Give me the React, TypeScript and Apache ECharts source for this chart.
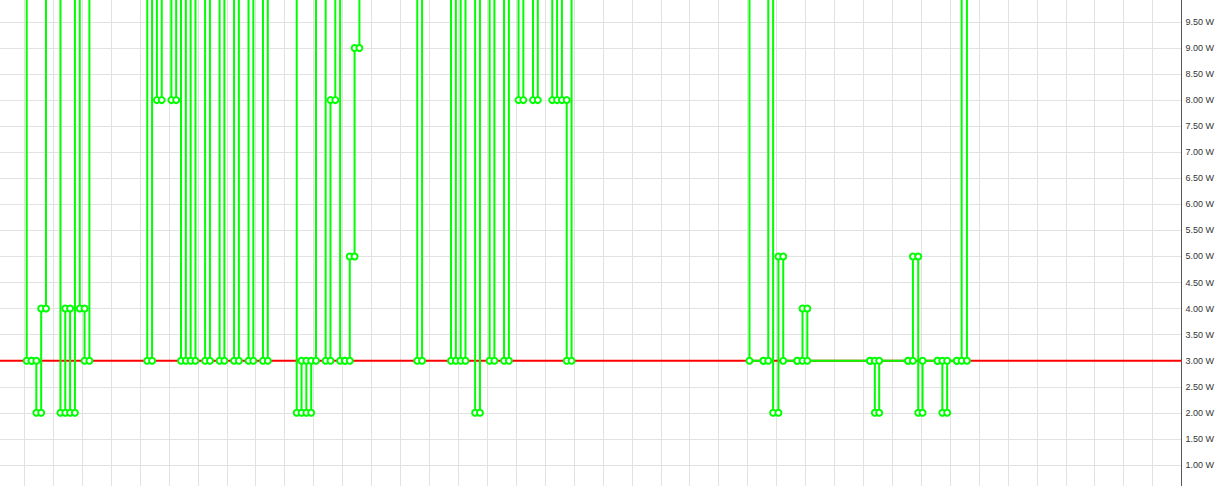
import React, { useEffect, useRef } from "react";
import * as echarts from "echarts";

// High readings that run off the top of the visible range
const HIGH = 14;

// Step start times (seconds) and the value held from that time until the next one
const stepTimes = [
  -25, 5, 15, 25, 35, 45, 75, 85, 95, 105, 115, 125, 135,
  255, 265, 275, 285, 305, 315, 325, 335, 345, 355, 375, 385, 405, 415,
  435, 445, 465, 475, 495, 505,
  565, 575, 585, 595, 605, 625, 635, 645, 655, 665, 675, 685, 695,
  815, 825, 885, 895, 905, 915, 935, 945, 965, 975, 995, 1005,
  1025, 1035, 1055, 1065, 1095, 1105, 1115, 1125, 1135,
  1504, 1533, 1543, 1553, 1564, 1574, 1603, 1614, 1624, 1754, 1764, 1773,
  1833, 1843, 1854, 1863, 1894, 1904, 1914, 1934, 1944, 1955,
];
const stepValues = [
  HIGH, 3, 3, 2, 4, HIGH, 2, 4, 2, HIGH, 4, 3, HIGH,
  3, HIGH, 8, HIGH, 8, HIGH, 3, HIGH, 3, HIGH, 3, HIGH, 3, HIGH,
  3, HIGH, 3, HIGH, 3, HIGH,
  2, 3, 2, 3, HIGH, 3, 8, HIGH, 3, 3, 5, 9, HIGH,
  3, HIGH, 3, HIGH, 3, HIGH, 2, HIGH, 3, HIGH, 3, HIGH,
  8, HIGH, 8, HIGH, 8, HIGH, 8, 3, HIGH,
  3, 3, HIGH, 2, 5, 3, 3, 4, 3, 3, 2, 3,
  3, 5, 2, 3, 3, 2, 3, 3, HIGH, 3,
];

// Threshold level (red line)
const thresholdValue = 3;
const xRange = [-60, 2400];
const yRange = [0.5, 10.5];

export default function App() {
  const ref = useRef<HTMLDivElement>(null);

  useEffect(() => {
    if (!ref.current) return;
    const chart = echarts.init(ref.current, undefined, { renderer: "svg" });

    const points: [number, number][] = [];
    for (let i = 0; i < stepTimes.length; i++) {
      points.push([stepTimes[i], stepValues[i]]);
      if (i + 1 < stepTimes.length) points.push([stepTimes[i + 1], stepValues[i]]);
    }
    const threshold = [
      [xRange[0], thresholdValue],
      [xRange[1], thresholdValue],
    ];

    chart.setOption({
      animation: false,
      grid: {
        left: -4.63,
        right: 47.5,
        top: -30.2,
        bottom: -5,
        containLabel: false,
        outerBoundsMode: "none",
      },
      xAxis: {
        type: "value",
        min: xRange[0],
        max: xRange[1],
        interval: 60,
        axisLabel: { show: false },
        axisTick: { show: false },
        axisLine: { show: false, onZero: false },
        splitLine: { show: true, lineStyle: { color: "#e2e2e2", width: 1 } },
      },
      yAxis: {
        type: "value",
        position: "right",
        min: yRange[0],
        max: yRange[1],
        interval: 0.5,
        axisLine: { show: true, onZero: false, lineStyle: { color: "#555555", width: 1 } },
        axisTick: { show: false },
        axisLabel: {
          formatter: (v: number) => v.toFixed(2) + " W",
          color: "#333333",
          fontSize: 9,
          margin: 4,
          showMinLabel: false,
          fontFamily: "Arial, 'Liberation Sans', sans-serif",
        },
        splitLine: { show: true, lineStyle: { color: "#e2e2e2", width: 1 } },
      },
      series: [
        {
          type: "line",
          data: threshold,
          symbol: "none",
          lineStyle: { color: "#ff0000", width: 2 },
          z: 1,
          silent: true,
        },
        {
          type: "line",
          data: points,
          symbol: "emptyCircle",
          symbolSize: 6,
          showAllSymbol: true,
          lineStyle: { color: "#00ff00", width: 2 },
          itemStyle: { color: "#00ff00", borderWidth: 1.5 },
          z: 2,
          silent: true,
        },
      ],
    });

    return () => chart.dispose();
  }, []);

  return (
    <div
      ref={ref}
      style={{ position: "fixed", left: 0, top: 0, width: 1229, height: 486, background: "#fff" }}
    />
  );
}
